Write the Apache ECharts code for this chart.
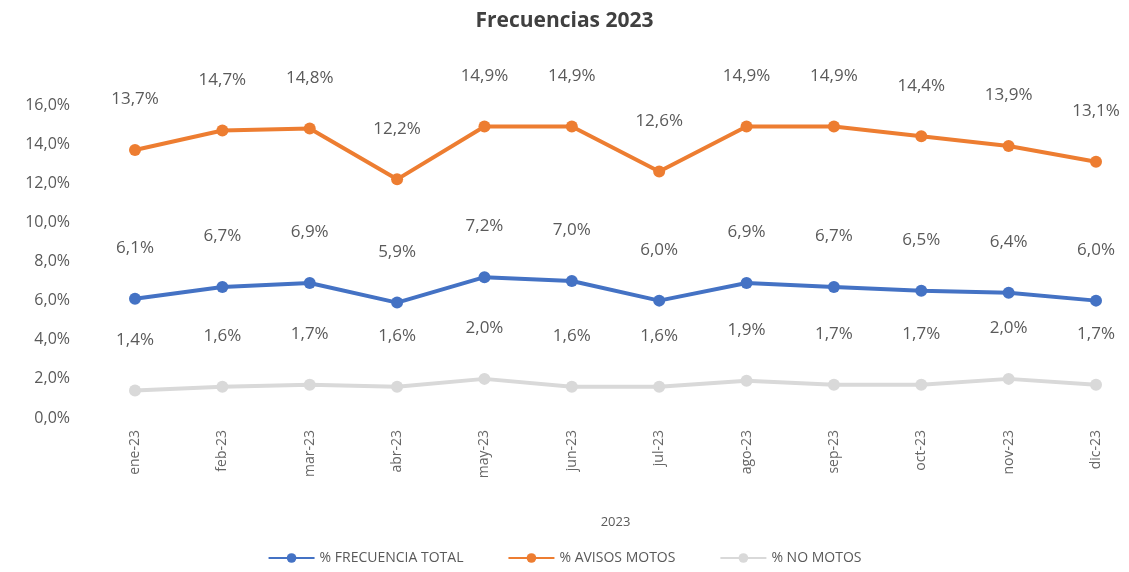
<!DOCTYPE html>
<html><head><meta charset="utf-8">
<script src="https://cdn.jsdelivr.net/npm/echarts@6/dist/echarts.min.js"></script>
<style>html,body{margin:0;padding:0;background:#fff}#c{width:1129px;height:572px}</style>
</head><body><div id="c"></div>
<script>
const categories = ['ene-23','feb-23','mar-23','abr-23','may-23','jun-23','jul-23','ago-23','sep-23','oct-23','nov-23','dic-23'];
const frecuenciaTotal = [6.1,6.7,6.9,5.9,7.2,7.0,6.0,6.9,6.7,6.5,6.4,6.0];
const avisosMotos = [13.7,14.7,14.8,12.2,14.9,14.9,12.6,14.9,14.9,14.4,13.9,13.1];
const noMotos = [1.4,1.6,1.7,1.6,2.0,1.6,1.6,1.9,1.7,1.7,2.0,1.7];
const yTicks = [0,2,4,6,8,10,12,14,16];

const fmt = v => v.toFixed(1).replace('.', ',') + '%';
const font = '"Open Sans", "Noto Sans", sans-serif';
const chart = echarts.init(document.getElementById('c'));
function mk(name, data, color) {
  return {
    name, type: 'line', data,
    symbol: 'circle', symbolSize: 12,
    lineStyle: { width: 4, color },
    itemStyle: { color },
    label: { show: true, position: 'top', distance: 36, formatter: p => fmt(p.value),
      fontFamily: font, fontSize: 17, color: '#5a5a5a' }
  };
}
chart.setOption({
  animation: false,
  title: { text: 'Frecuencias 2023', left: 'center', top: 6,
    textStyle: { fontFamily: font, fontSize: 21, fontWeight: 'bold', color: '#404040' } },
  legend: { bottom: 2, left: 'center', itemWidth: 46, itemHeight: 12, itemGap: 44,
    textStyle: { fontFamily: font, fontSize: 14, color: '#595959' },
    data: ['% FRECUENCIA TOTAL', '% AVISOS MOTOS', '% NO MOTOS'] },
  grid: { left: 135, right: 33, top: 105, bottom: 154, containLabel: false },
  xAxis: { type: 'category', data: categories, boundaryGap: false,
    name: '2023', nameLocation: 'middle', nameGap: 98,
    nameTextStyle: { fontFamily: font, fontSize: 13, color: '#595959' },
    axisLine: { show: false }, axisTick: { show: false },
    axisLabel: { rotate: 90, margin: 12, fontFamily: font, fontSize: 14, color: '#666666' } },
  yAxis: { type: 'value', min: 0, max: 16, interval: 2,
    splitLine: { show: false }, axisLine: { show: false }, axisTick: { show: false },
    axisLabel: { margin: 65, formatter: v => yTicks.includes(v) ? fmt(v) : '',
      fontFamily: font, fontSize: 16, color: '#595959' } },
  series: [
    mk('% FRECUENCIA TOTAL', frecuenciaTotal, '#4472C4'),
    mk('% AVISOS MOTOS', avisosMotos, '#ED7D31'),
    mk('% NO MOTOS', noMotos, '#D9D9D9')
  ]
});
</script></body></html>
